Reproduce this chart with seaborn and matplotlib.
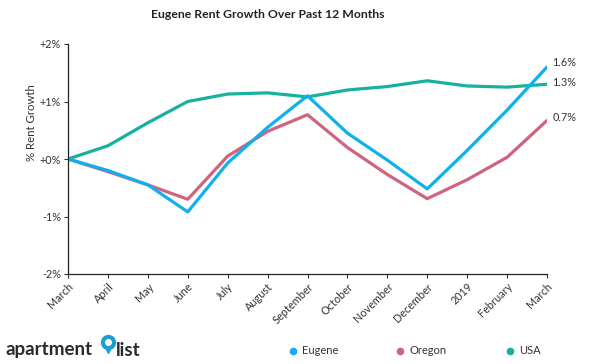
import matplotlib
matplotlib.use("Agg")
import matplotlib.pyplot as plt
import seaborn as sns
import pandas as pd
import numpy as np

months = ["March", "April", "May", "June", "July", "August", "September",
          "October", "November", "December", "2019", "February", "March"]
eugene = [0.0, -0.20, -0.45, -0.92, -0.07, 0.55, 1.10, 0.45, -0.02, -0.52, 0.15, 0.85, 1.60]
oregon = [0.0, -0.22, -0.45, -0.70, 0.05, 0.48, 0.77, 0.20, -0.27, -0.69, -0.36, 0.03, 0.67]
usa = [0.0, 0.23, 0.63, 1.00, 1.13, 1.15, 1.08, 1.20, 1.26, 1.36, 1.27, 1.25, 1.30]
series_names = ["Eugene", "Oregon", "USA"]
end_labels = ["1.6%", "1.3%", "0.7%"]
yticks = [-2, -1, 0, 1, 2]
ytick_labels = ["-2%", "-1%", "+0%", "+1%", "+2%"]

colors = {"Eugene": "#10B0EC", "Oregon": "#D0637E", "USA": "#18B0A0"}

rows = []
for name, vals in zip(series_names, [eugene, oregon, usa]):
    for i, v in enumerate(vals):
        rows.append({"idx": i, "value": v, "series": name})
df = pd.DataFrame(rows)

sns.set_theme(style="white")
plt.rcParams["font.family"] = ["Lato", "DejaVu Sans"]

fig = plt.figure(figsize=(6, 3.64), dpi=100)
ax = fig.add_axes([68/600, 1-274/364, (547-68)/600, (274-44)/364])

sns.lineplot(data=df, x="idx", y="value", hue="series", palette=colors,
             hue_order=["USA", "Oregon", "Eugene"], linewidth=2.3, ax=ax,
             legend=False)

ax.set_xlim(0, len(months) - 1)
ax.set_ylim(-2, 2)
ax.set_yticks(yticks)
ax.set_yticklabels(ytick_labels, fontsize=7.8, color="#333333")
ax.set_xticks(range(len(months)))
ax.set_xticklabels(months, rotation=45, ha="right", rotation_mode="anchor",
                   fontsize=7.8, color="#333333")
ax.tick_params(axis="both", which="both", length=3, width=0.8, color="#333333",
               direction="out", bottom=True, left=True, pad=2)
for s in ["top", "right"]:
    ax.spines[s].set_visible(False)
for s in ["left", "bottom"]:
    ax.spines[s].set_color("#222222")
    ax.spines[s].set_linewidth(0.9)
ax.set_xlabel("")
ax.set_ylabel("% Rent Growth", fontsize=8.2, color="#333333")
ax.yaxis.set_label_coords(-0.065, 0.66)

# end labels
last = len(months) - 1
end_vals = [eugene[-1], usa[-1], oregon[-1]]
end_offsets = [3, 1, 2.5]
for lab, v, off in zip(end_labels, end_vals, end_offsets):
    ax.annotate(lab, xy=(last, v), xytext=(4, off), textcoords="offset points",
                fontsize=7.8, color="#333333", va="center", ha="left",
                annotation_clip=False)

fig.text(268/600, 1-14/364, "Eugene Rent Growth Over Past 12 Months", ha="center",
         va="center", fontsize=8.8, fontweight="bold", color="#222222")

# legend
for name, xpos in zip(series_names, [293, 400, 510]):
    fig.lines.append(plt.Line2D([xpos/600], [1-351/364], marker="o", markersize=4.5,
                                color=colors[name], linestyle="none",
                                transform=fig.transFigure))
    fig.text((xpos+9)/600, 1-351/364, name, fontsize=8, color="#333333",
             va="center", ha="left")

# logo
fig.text(6/600, 1-350/364, "apartment", fontsize=13.5, fontweight="bold",
         color="#2a2a2a", va="center", ha="left")
fig.lines.append(plt.Line2D([108/600], [1-347/364], marker="v", markersize=9,
                            color="#1a9fd0", linestyle="none",
                            transform=fig.transFigure))
fig.lines.append(plt.Line2D([108/600], [1-342/364], marker="o", markersize=10,
                            color="#1a9fd0", linestyle="none",
                            transform=fig.transFigure))
fig.lines.append(plt.Line2D([108/600], [1-342/364], marker="o", markersize=4,
                            color="white", linestyle="none",
                            transform=fig.transFigure))
fig.text(116/600, 1-350/364, "list", fontsize=13.5, fontweight="bold",
         color="#2a2a2a", va="center", ha="left")

fig.savefig("out.png", dpi=100, facecolor="white")
